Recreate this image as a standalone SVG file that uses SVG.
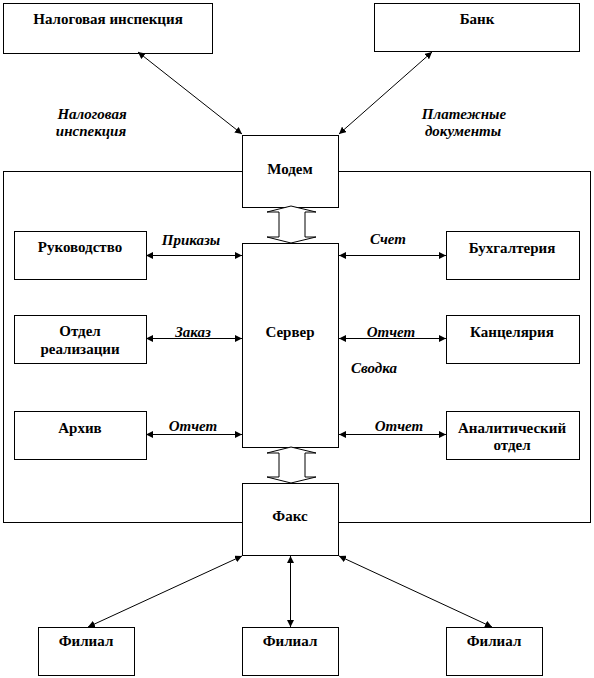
<svg xmlns="http://www.w3.org/2000/svg" width="594" height="678" viewBox="0 0 594 678">
<style>
.box{fill:#fff;stroke:#000;stroke-width:1}
.t{font-family:'Liberation Serif','Times New Roman',Tinos,'DejaVu Serif','Noto Serif',serif;font-weight:bold;font-size:15px;fill:#000;text-anchor:middle}
.i{font-family:'Liberation Serif','Times New Roman',Tinos,'DejaVu Serif','Noto Serif',serif;font-weight:bold;font-style:italic;font-size:15px;fill:#000;text-anchor:middle}
.c{stroke:#000;stroke-width:1;fill:none;marker-start:url(#ah);marker-end:url(#ah)}
.blk{fill:#fff;stroke:#000;stroke-width:1}
</style>
<defs>
<marker id="ah" viewBox="0 0 10 10" refX="10" refY="5" markerWidth="7" markerHeight="7" markerUnits="userSpaceOnUse" orient="auto-start-reverse">
<path d="M0,0 L10,5 L0,10 Z" fill="#000"/>
</marker>
</defs>
<rect x="3.5" y="171.5" width="587" height="351" fill="#fff" stroke="#000" stroke-width="1"/>
<g id="nalog"><rect class="box" x="3.5" y="3.5" width="209" height="50"/><text class="t" x="108" y="24">Налоговая инспекция</text></g>
<g id="bank"><rect class="box" x="374.5" y="3.5" width="205" height="48"/><text class="t" x="477" y="24">Банк</text></g>
<g id="modem"><rect class="box" x="242.5" y="135.5" width="96" height="72"/><text class="t" x="290" y="174">Модем</text></g>
<g id="server"><rect class="box" x="242.5" y="243.5" width="96" height="204"/><text class="t" x="290" y="337">Сервер</text></g>
<g id="fax"><rect class="box" x="242.5" y="483.5" width="96" height="72"/><text class="t" x="290" y="521">Факс</text></g>
<g id="ruk"><rect class="box" x="14.5" y="231.5" width="132" height="48"/><text class="t" x="80" y="252">Руководство</text></g>
<g id="otdel"><rect class="box" x="14.5" y="315.5" width="132" height="48"/><text class="t" x="80" y="336">Отдел</text><text class="t" x="80" y="354">реализации</text></g>
<g id="arhiv"><rect class="box" x="14.5" y="411.5" width="132" height="48"/><text class="t" x="80" y="433">Архив</text></g>
<g id="buh"><rect class="box" x="446.5" y="231.5" width="133" height="48"/><text class="t" x="512" y="253">Бухгалтерия</text></g>
<g id="kanc"><rect class="box" x="446.5" y="315.5" width="133" height="48"/><text class="t" x="512" y="337">Канцелярия</text></g>
<g id="anal"><rect class="box" x="446.5" y="411.5" width="133" height="48"/><text class="t" x="512" y="433">Аналитический</text><text class="t" x="512" y="450">отдел</text></g>
<g id="fil1"><rect class="box" x="38.5" y="627.5" width="96" height="48"/><text class="t" x="86" y="646">Филиал</text></g>
<g id="fil2"><rect class="box" x="242.5" y="627.5" width="96" height="48"/><text class="t" x="290" y="646">Филиал</text></g>
<g id="fil3"><rect class="box" x="446.5" y="627.5" width="96" height="48"/><text class="t" x="494" y="646">Филиал</text></g>
<g id="connectors">
<polygon class="blk" points="291,206 316,212 305,212 305,237 316,237 291,243 267,237 279,237 279,212 267,212"/>
<polygon class="blk" points="291,447 316,453 305,453 305,477 316,477 291,483 267,477 279,477 279,453 267,453"/>
<line class="c" x1="138" y1="52" x2="242" y2="134"/>
<line class="c" x1="432" y1="52" x2="339" y2="134"/>
<line class="c" x1="146" y1="255.5" x2="242" y2="255.5"/>
<line class="c" x1="146" y1="338.5" x2="242" y2="338.5"/>
<line class="c" x1="146" y1="434.5" x2="242" y2="434.5"/>
<line class="c" x1="339" y1="255.5" x2="446" y2="255.5"/>
<line class="c" x1="339" y1="338.5" x2="446" y2="338.5"/>
<line class="c" x1="339" y1="434.5" x2="446" y2="434.5"/>
<line class="c" x1="242" y1="556" x2="88" y2="627"/>
<line class="c" x1="290.5" y1="556" x2="290.5" y2="627"/>
<line class="c" x1="339" y1="556" x2="492" y2="627"/>
<text class="i" x="92" y="119">Налоговая</text>
<text class="i" x="91" y="136">инспекция</text>
<text class="i" x="464" y="119">Платежные</text>
<text class="i" x="463" y="136">документы</text>
<text class="i" x="191" y="245">Приказы</text>
<text class="i" x="193" y="337">Заказ</text>
<text class="i" x="193" y="431">Отчет</text>
<text class="i" x="388" y="244">Счет</text>
<text class="i" x="391" y="337">Отчет</text>
<text class="i" x="374" y="373">Сводка</text>
<text class="i" x="399" y="431">Отчет</text>
</g>
</svg>
